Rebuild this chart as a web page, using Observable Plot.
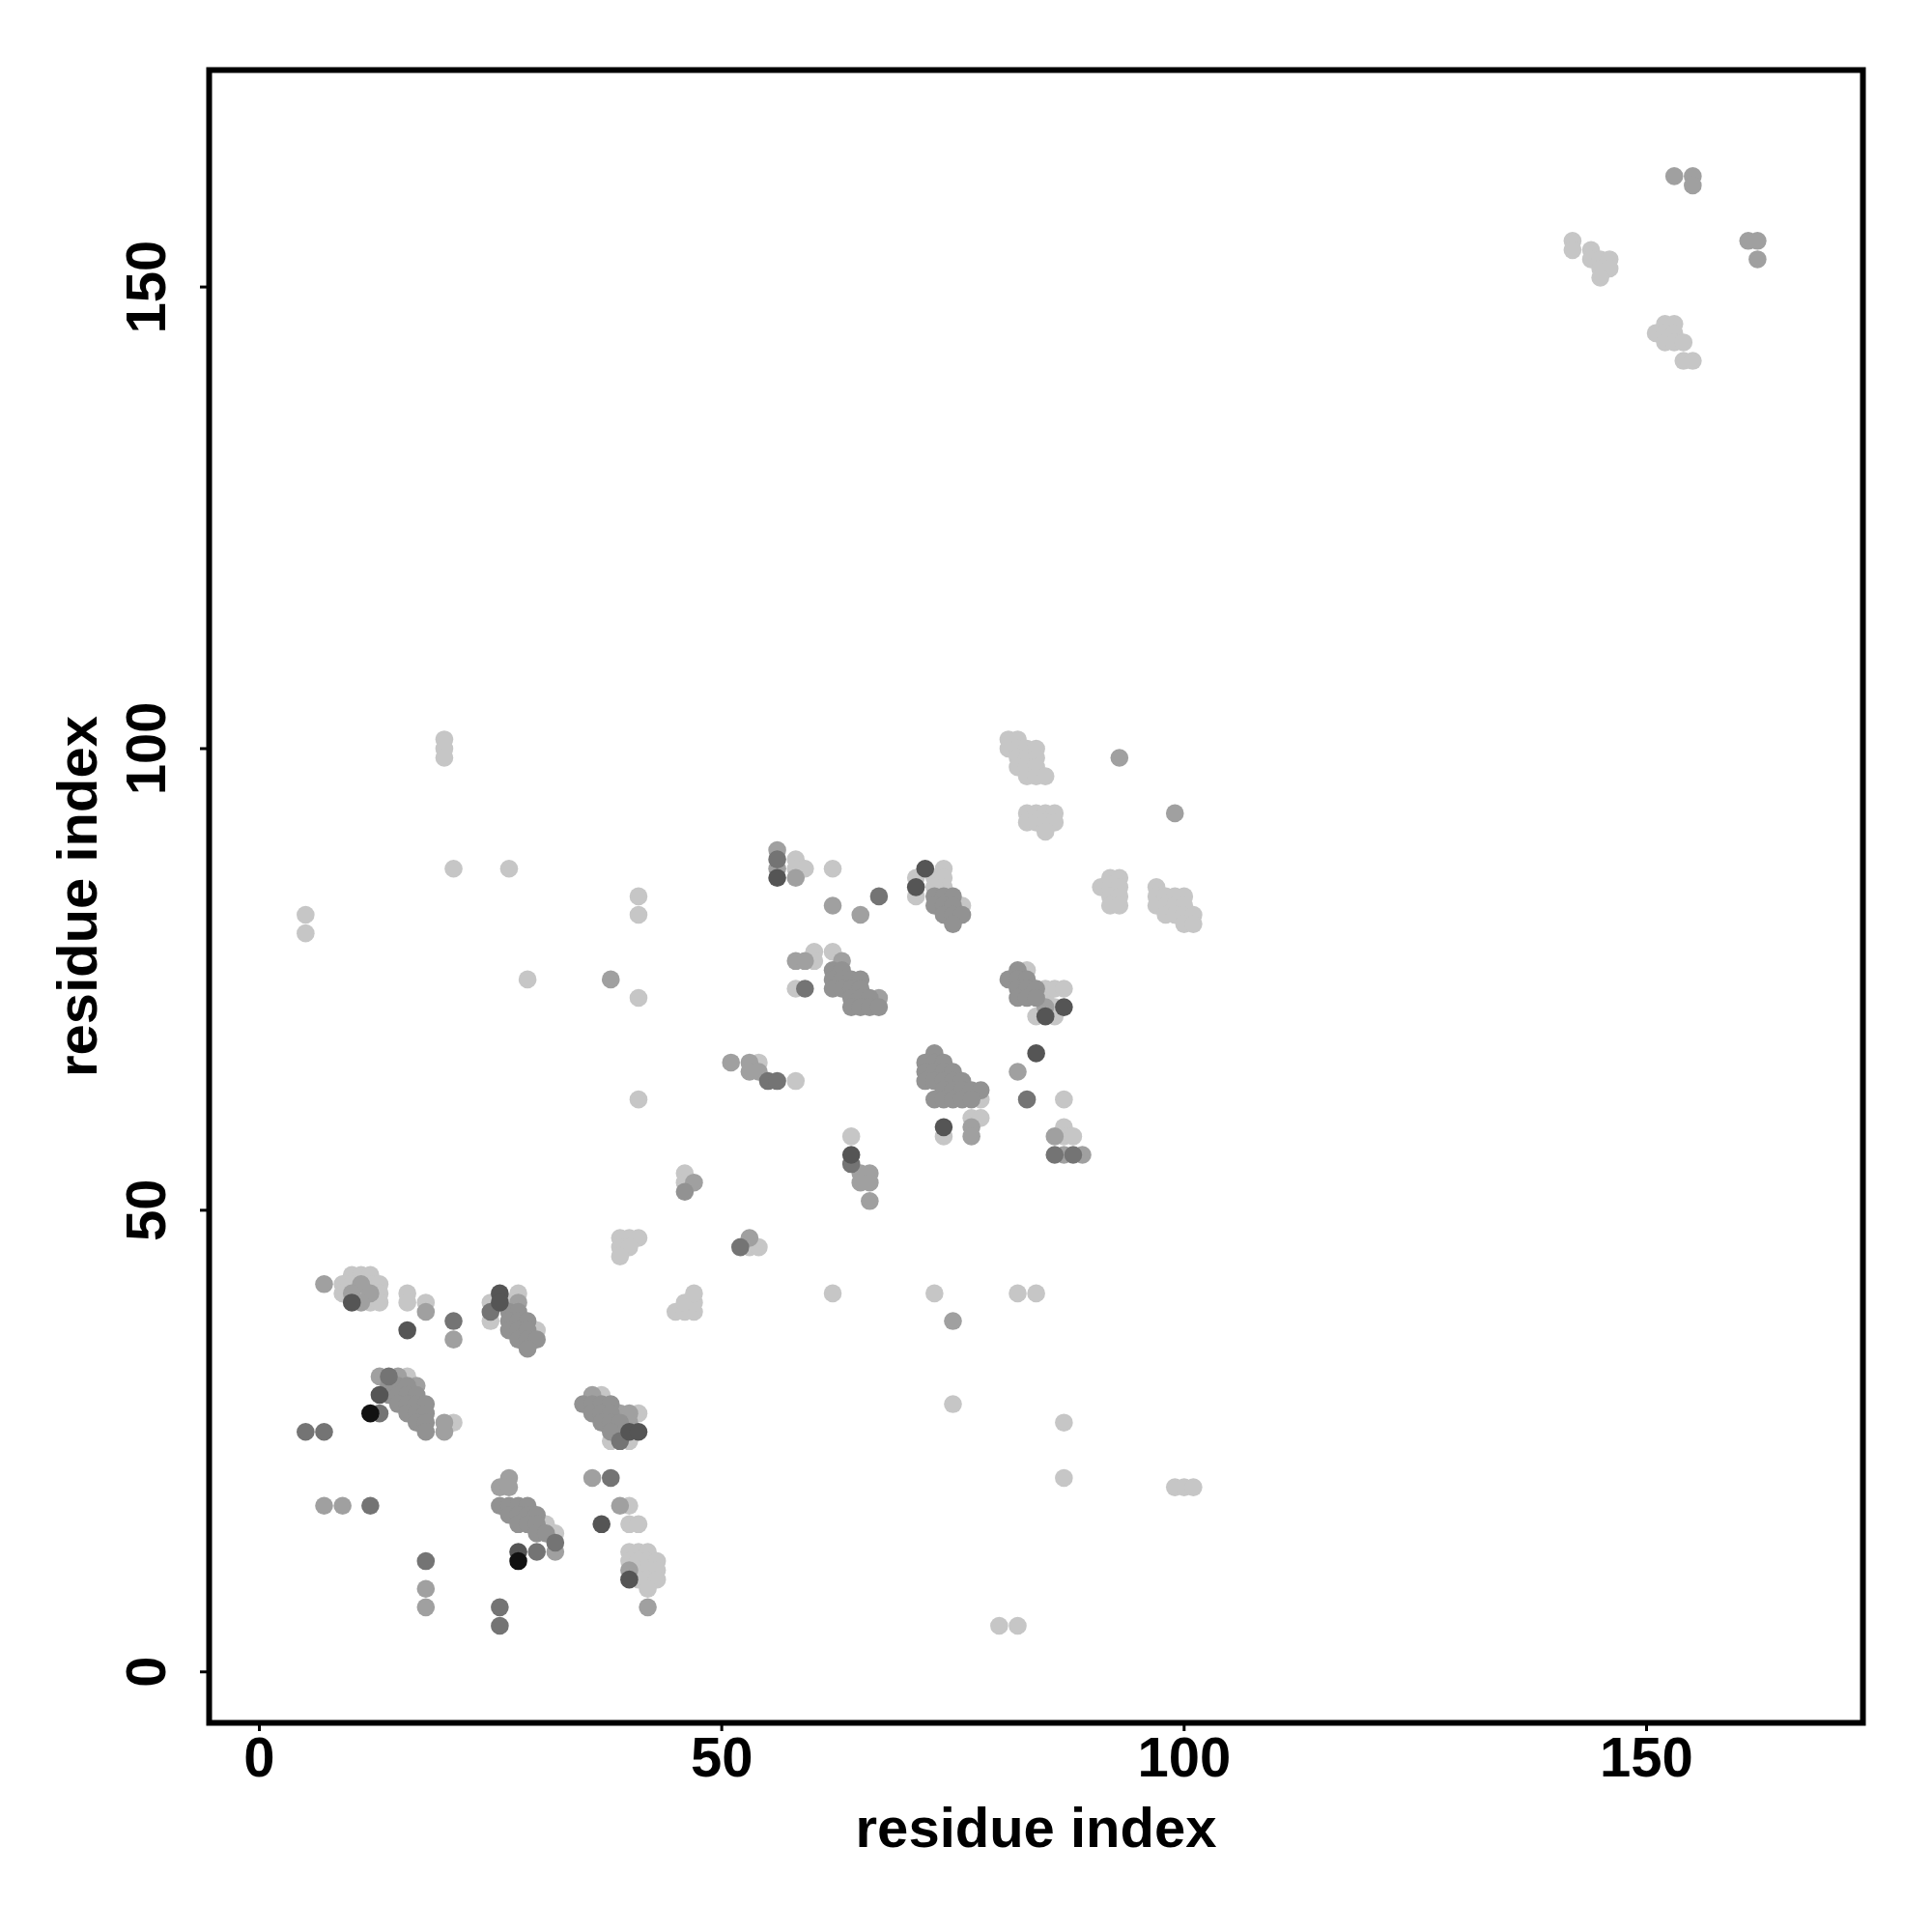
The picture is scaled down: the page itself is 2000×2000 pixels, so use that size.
<!DOCTYPE html>
<html><head><meta charset="utf-8">
<script src="https://cdn.jsdelivr.net/npm/d3@7"></script>
<script src="https://cdn.jsdelivr.net/npm/@observablehq/plot@0.6"></script>
<style>body{margin:0;background:#fff;} #chart svg{display:block}</style>
</head><body><div id="chart"></div>
<script>
const levelNames = ["light", "medium", "gray", "dark", "darker", "black"];
const levelColors = ["#c6c6c6", "#a0a0a0", "#929292", "#747474", "#555555", "#111111"];
const xTicks = [0, 50, 100, 150];
const yTicks = [0, 50, 100, 150];
const axisTitle = "residue index";

const lightContacts = [
  [9,42],[10,43],[11,43],[12,43],[10,42],[12,42],[13,42],[9,41],[11,41],[13,41],[12,40],[13,40],[16,41],[16,40],[18,40],[25,40],[25,38],[27,40],[28,41],[30,37],
  [39,47],[40,47],[41,47],[39,46],[40,46],[39,45],[45,39],[46,39],[47,39],[46,40],[47,40],[47,41],
  [16,32],[21,27],[37,30],[41,28],[39,26],[38,25],[40,25],[40,18],[40,16],[41,16],
  [40,13],[41,13],[42,13],[40,12],[41,12],[42,12],[43,12],[41,11],[42,11],[43,11],[41,10],[42,10],[43,10],[42,9],
  [31,16],[32,15],
  [53,46],[54,46],[62,41],[73,41],[82,41],[84,41],[75,29],[87,27],[87,21],[80,5],[82,5],[99,20],[100,20],[101,20],
  [21,87],[27,87],[5,82],[5,80],[41,84],[41,82],[29,75],[41,73],[41,62],[46,54],[46,53],[20,101],[20,100],[20,99],
  [83,93],[84,93],[85,93],[86,93],[83,92],[84,92],[85,92],[86,92],[85,91],
  [92,86],[93,86],[91,85],[92,85],[93,85],[92,84],[93,84],[92,83],[93,83],
  [58,88],[58,87],[59,87],[62,87],[74,87],[71,86],[71,84],[73,86],[74,86],[74,85],[73,85],[76,83],
  [60,78],[60,77],[62,78],[58,74],
  [83,76],[85,73],[85,74],[86,74],[87,74],[86,72],[84,71],[86,71],
  [54,66],[58,64],[78,62],[74,58],[77,60],[78,60],[87,62],[87,59],[87,58],[88,58],[64,58],
  [97,85],[97,84],[97,83],[98,84],[98,83],[99,84],[99,83],[100,84],[100,83],[98,82],[99,82],[100,82],[101,82],[100,81],[101,81],
  [81,101],[82,101],[81,100],[82,100],[83,100],[84,100],[82,99],[83,99],[84,99],[82,98],[83,98],[84,98],[83,97],[84,97],[85,97],
  [142,155],[142,154],[144,154],[144,153],[145,153],[146,153],[145,152],[146,152],[145,151],
  [151,145],[152,146],[153,146],[152,145],[153,145],[152,144],[153,144],[154,144],[154,142],[155,142]
];
const mediumContacts = [
  [7,42],[11,42],[10,41],[12,41],[11,40],[18,39],[21,36],[28,40],
  [13,32],[15,32],[17,31],[20,26],[20,27],
  [36,30],[39,28],[40,28],[40,27],[36,21],[39,18],[40,11],[42,7],
  [27,21],[26,20],[27,20],[32,13],[7,18],[9,18],[18,9],[18,7],
  [53,47],[75,38],[38,75],[47,53],
  [56,89],[56,87],[58,86],[62,83],[65,82],
  [58,77],[59,77],[63,77],[67,73],[85,72],
  [51,66],[53,66],[53,65],[54,65],[82,65],[77,59],[77,58],[86,58],[87,56],[89,56],
  [65,54],[66,54],[65,53],[66,53],[66,51],
  [93,99],[99,93],
  [153,162],[155,162],[155,161],[161,155],[162,155],[162,153]
];
const grayContacts = [
  [27,39],[28,39],[27,38],[28,38],[29,38],[27,37],[28,37],[29,37],[28,36],[29,36],[30,36],[29,35],
  [14,31],[15,31],[16,31],[14,30],[15,30],[16,30],[17,30],[15,29],[16,29],[17,29],[18,29],[16,28],[17,28],[18,28],[17,27],[18,27],[18,26],
  [35,29],[36,29],[37,29],[38,29],[36,28],[37,28],[38,28],[37,27],[38,27],[39,27],[38,26],
  [26,18],[27,18],[28,18],[29,18],[27,17],[28,17],[29,17],[30,17],[28,16],[29,16],[30,16],[30,15],[31,15],
  [46,52],
  [73,84],[74,84],[75,84],[73,83],[74,83],[75,83],[74,82],[75,82],[76,82],[75,81],
  [62,76],[63,76],[62,75],[63,75],[64,75],[65,75],[62,74],[63,74],[64,74],[65,74],[64,73],[65,73],[66,73],[64,72],[65,72],[66,72],[67,72],
  [81,75],[82,76],[82,75],[83,75],[82,74],[83,74],[84,74],[82,73],[83,73],[84,73],
  [73,67],[72,66],[73,66],[74,66],[72,65],[73,65],[74,65],[75,65],[72,64],[73,64],[74,64],[75,64],[76,64],[74,63],[75,63],[76,63],[77,63],[78,63],[73,62],[74,62],[75,62],[76,62],[77,62]
];
const darkContacts = [
  [21,38],[25,39],[14,32],[13,28],[5,26],[7,26],[39,25],[38,21],[32,14],[30,13],[12,18],[18,12],[26,7],[26,5],
  [52,46],[56,88],[67,84],[59,74],[55,64],[56,64],[83,62],[86,56],[88,56],[64,55]
];
const darkerContacts = [
  [10,40],[16,37],[26,41],[26,40],[13,30],[40,26],[41,26],[37,16],[40,10],[28,13],
  [56,86],[72,87],[71,85],[87,72],[85,71],[74,59],[84,67],[64,56]
];
const blackContacts = [[12,28],[28,12]];

const groups = [lightContacts, mediumContacts, grayContacts, darkContacts, darkerContacts, blackContacts];
const contacts = [];
groups.forEach((arr, k) => arr.forEach(([i, j]) => contacts.push({i, j, level: levelNames[k]})));

const bold = {fontSize: 58, fontWeight: "bold"};
const plot = Plot.plot({
  width: 2000, height: 2000,
  marginLeft: 216, marginRight: 72, marginTop: 72, marginBottom: 217,
  x: {domain: [-5.43, 173.4]},
  y: {domain: [-5.52, 173.5]},
  color: {type: "ordinal", domain: levelNames, range: levelColors},
  style: {fontFamily: "'Liberation Sans', Arial, sans-serif", fontSize: "58px", fontWeight: "bold", color: "black", background: "white"},
  marks: [
    Plot.dot(contacts, {x: "i", y: "j", r: 9.3, fill: "level", stroke: null}),
    Plot.frame({stroke: "black", strokeWidth: 6}),
    Plot.axisX({ticks: xTicks, tickSize: 9, strokeWidth: 3, tickPadding: 5, label: null, ...bold}),
    Plot.axisY({ticks: yTicks, tickSize: 9, strokeWidth: 3, tickFormat: () => "", label: null}),
    Plot.text(yTicks, {y: d => d, text: d => String(d), frameAnchor: "left", dx: -64, rotate: -90, textAnchor: "middle", lineAnchor: "middle", ...bold}),
    Plot.text([axisTitle], {text: d => d, frameAnchor: "bottom", dy: 110, textAnchor: "middle", lineAnchor: "middle", ...bold}),
    Plot.text([axisTitle], {text: d => d, frameAnchor: "left", dx: -135, rotate: -90, textAnchor: "middle", lineAnchor: "middle", ...bold})
  ]
});
document.getElementById("chart").appendChild(plot);
</script>
</body></html>
